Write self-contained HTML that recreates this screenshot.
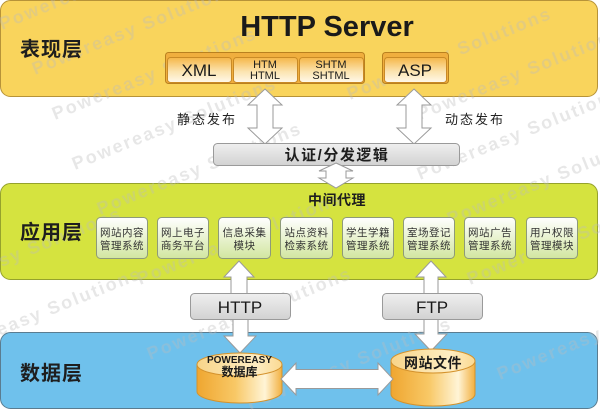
<!DOCTYPE html>
<html><head><meta charset="utf-8">
<style>
html,body{margin:0;padding:0;background:#fff;}
svg{display:block;}
.cn{font-family:"Liberation Sans","Noto Sans CJK SC",sans-serif;}
.wm{font-family:"Liberation Sans",sans-serif;font-weight:bold;font-size:18px;letter-spacing:2px;}
</style></head>
<body>
<svg width="600" height="411" viewBox="0 0 600 411" xmlns="http://www.w3.org/2000/svg">
<defs>
  <linearGradient id="tab" x1="0" y1="0" x2="0" y2="1">
    <stop offset="0" stop-color="#F5B647"/>
    <stop offset="0.55" stop-color="#FBE3AE"/>
    <stop offset="1" stop-color="#FFF9EA"/>
  </linearGradient>
  <linearGradient id="mod" x1="0" y1="0" x2="0" y2="1">
    <stop offset="0" stop-color="#FFFFFF"/>
    <stop offset="1" stop-color="#D2E6A0"/>
  </linearGradient>
  <linearGradient id="gray" x1="0" y1="0" x2="0" y2="1">
    <stop offset="0" stop-color="#EFEFEF"/>
    <stop offset="1" stop-color="#D2D2D2"/>
  </linearGradient>
  <linearGradient id="cyl" x1="0" y1="0" x2="1" y2="0">
    <stop offset="0" stop-color="#EFA630"/>
    <stop offset="0.45" stop-color="#F8C866"/>
    <stop offset="0.8" stop-color="#FFF4D6"/>
    <stop offset="1" stop-color="#F2B040"/>
  </linearGradient>
  <linearGradient id="cyltop" x1="0" y1="0" x2="1" y2="0">
    <stop offset="0" stop-color="#F8D58A"/>
    <stop offset="0.7" stop-color="#FEEDC2"/>
    <stop offset="1" stop-color="#FAD992"/>
  </linearGradient>
</defs>

<!-- Panels -->
<rect x="0.5" y="0.5" width="597" height="96" rx="10" fill="#F9D45C" stroke="#B79338"/>
<rect x="0.5" y="183.5" width="597" height="96" rx="10" fill="#D5E33F" stroke="#95A22C"/>
<rect x="0.5" y="332.5" width="597" height="76" rx="10" fill="#6FC1EC" stroke="#5A7C90"/>

<!-- watermark -->
<g class="wm" fill="#BDBDBD" opacity="0.35">
  <text transform="translate(2,30) rotate(-22)">Powereasy Solutions</text>
  <text transform="translate(35,75) rotate(-22)">Powereasy Solutions</text>
  <text transform="translate(55,120) rotate(-22)">Powereasy Solutions</text>
  <text transform="translate(350,100) rotate(-22)">Powereasy Solutions</text>
  <text transform="translate(420,120) rotate(-22)">Powereasy Solutions</text>
  <text transform="translate(75,170) rotate(-22)">Powereasy Solutions</text>
  <text transform="translate(100,215) rotate(-22)">Powereasy Solutions</text>
  <text transform="translate(140,285) rotate(-22)">Powereasy Solutions</text>
  <text transform="translate(420,180) rotate(-22)">Powereasy Solutions</text>
  <text transform="translate(450,225) rotate(-22)">Powereasy Solutions</text>
  <text transform="translate(470,285) rotate(-22)">Powereasy Solutions</text>
  <text transform="translate(-80,300) rotate(-22)">Powereasy Solutions</text>
  <text transform="translate(-60,360) rotate(-22)">Powereasy Solutions</text>
  <text transform="translate(150,360) rotate(-22)">Powereasy Solutions</text>
  <text transform="translate(250,410) rotate(-22)">Powereasy Solutions</text>
  <text transform="translate(500,380) rotate(-22)">Powereasy Solutions</text>
</g>

<!-- Top panel content -->
<text x="327" y="36" text-anchor="middle" font-family="Liberation Sans, sans-serif" font-weight="bold" font-size="29" fill="#1a1a1a">HTTP Server</text>
<text class="cn" x="20" y="56" font-size="20" font-weight="bold" letter-spacing="1" fill="#1e1e1e">表现层</text>

<rect x="165.5" y="52.5" width="199" height="31" rx="3" fill="#F0AE3E" stroke="#B9801F"/>
<rect x="382.5" y="52.5" width="66" height="31" rx="3" fill="#F0AE3E" stroke="#B9801F"/>
<rect x="167.5" y="57.5" width="64" height="25" rx="3" fill="url(#tab)" stroke="#C98A26"/>
<rect x="233.5" y="57.5" width="64" height="25" rx="3" fill="url(#tab)" stroke="#C98A26"/>
<rect x="299.5" y="57.5" width="64" height="25" rx="3" fill="url(#tab)" stroke="#C98A26"/>
<rect x="384.5" y="57.5" width="62" height="25" rx="3" fill="url(#tab)" stroke="#C98A26"/>
<g font-family="Liberation Sans, sans-serif" fill="#1a1a1a" text-anchor="middle">
  <text x="199" y="76" font-size="17">XML</text>
  <text x="265" y="68" font-size="11">HTM</text>
  <text x="265" y="79" font-size="11">HTML</text>
  <text x="331" y="68" font-size="11">SHTM</text>
  <text x="331" y="79" font-size="11">SHTML</text>
  <text x="415" y="76" font-size="17">ASP</text>
</g>

<!-- arrows top -> auth -->
<g fill="#FFFFFF" stroke="#9A9A9A" stroke-width="1">
  <path d="M265,89 L282,105 L273,105 L273,128 L282,128 L265,144 L248,128 L257,128 L257,105 L248,105 Z"/>
  <path d="M414,89 L431,105 L422,105 L422,128 L431,128 L414,144 L397,128 L406,128 L406,105 L397,105 Z"/>
</g>
<text class="cn" x="177" y="124" font-size="13" letter-spacing="2" fill="#222">静态发布</text>
<text class="cn" x="445" y="124" font-size="13" letter-spacing="2" fill="#222">动态发布</text>

<!-- auth box -->
<rect x="213.5" y="143.5" width="246" height="22" rx="4" fill="url(#gray)" stroke="#9A9A9A"/>
<text class="cn" x="337" y="160" text-anchor="middle" font-size="15" font-weight="bold" letter-spacing="1.5" fill="#1e1e1e">认证/分发逻辑</text>

<!-- auth -> middle arrow -->
<path d="M336,163 L353,171 L346,171 L346,178 L353,178 L336,188 L319,178 L326,178 L326,171 L319,171 Z" fill="#FFFFFF" stroke="#9A9A9A"/>

<!-- middle panel -->
<text class="cn" x="337" y="205" text-anchor="middle" font-size="14" font-weight="bold" letter-spacing="0.5" fill="#1e1e1e">中间代理</text>
<text class="cn" x="20" y="239" font-size="20" font-weight="bold" letter-spacing="1" fill="#1e1e1e">应用层</text>

<g stroke="#8E9A7A" fill="url(#mod)">
  <rect x="96.5" y="217.5" width="51" height="41" rx="4"/>
  <rect x="157.5" y="217.5" width="51" height="41" rx="4"/>
  <rect x="218.5" y="217.5" width="52" height="41" rx="4"/>
  <rect x="280.5" y="217.5" width="52" height="41" rx="4"/>
  <rect x="342.5" y="217.5" width="51" height="41" rx="4"/>
  <rect x="403.5" y="217.5" width="51" height="41" rx="4"/>
  <rect x="464.5" y="217.5" width="51" height="41" rx="4"/>
  <rect x="526.5" y="217.5" width="51" height="41" rx="4"/>
</g>
<g class="cn" font-size="10.5" fill="#333" text-anchor="middle" letter-spacing="0.5">
  <text x="122" y="236">网站内容</text><text x="122" y="249">管理系统</text>
  <text x="183" y="236">网上电子</text><text x="183" y="249">商务平台</text>
  <text x="244.5" y="236">信息采集</text><text x="244.5" y="249">模块</text>
  <text x="306.5" y="236">站点资料</text><text x="306.5" y="249">检索系统</text>
  <text x="368" y="236">学生学籍</text><text x="368" y="249">管理系统</text>
  <text x="429" y="236">室场登记</text><text x="429" y="249">管理系统</text>
  <text x="490" y="236">网站广告</text><text x="490" y="249">管理系统</text>
  <text x="552" y="236">用户权限</text><text x="552" y="249">管理模块</text>
</g>

<!-- HTTP / FTP arrows -->
<g fill="#FFFFFF" stroke="#9A9A9A">
  <path d="M239,261 L254,277 L247,277 L247,295 L231,295 L231,277 L224,277 Z"/>
  <path d="M431,261 L446,277 L438,277 L438,295 L424,295 L424,277 L416,277 Z"/>
  <path d="M233,318 L248,318 L248,336 L256,336 L240,353 L224,336 L233,336 Z"/>
  <path d="M424,318 L438,318 L438,334 L447,334 L431,351 L415,334 L424,334 Z"/>
</g>
<rect x="190.5" y="293.5" width="100" height="26" rx="4" fill="url(#gray)" stroke="#9A9A9A"/>
<rect x="382.5" y="293.5" width="100" height="26" rx="4" fill="url(#gray)" stroke="#9A9A9A"/>
<text x="240" y="313" text-anchor="middle" font-family="Liberation Sans, sans-serif" font-size="17" fill="#1a1a1a">HTTP</text>
<text x="432" y="313" text-anchor="middle" font-family="Liberation Sans, sans-serif" font-size="17" fill="#1a1a1a">FTP</text>

<!-- bottom panel -->
<text class="cn" x="20" y="380" font-size="20" font-weight="bold" letter-spacing="1" fill="#1e1e1e">数据层</text>

<!-- cylinders -->
<path d="M197,364.5 L197,391.5 A42.5,11.5 0 0 0 282,391.5 L282,364.5 Z" fill="url(#cyl)" stroke="#D4922C"/>
<ellipse cx="239.5" cy="364.5" rx="42.5" ry="11.5" fill="url(#cyltop)" stroke="#D4922C"/>
<path d="M391,361 L391,394 A42,12 0 0 0 475,394 L475,361 Z" fill="url(#cyl)" stroke="#D4922C"/>
<ellipse cx="433" cy="361" rx="42" ry="12" fill="url(#cyltop)" stroke="#D4922C"/>

<text x="239.5" y="363" text-anchor="middle" font-family="Liberation Sans, sans-serif" font-weight="bold" font-size="10" fill="#1a1a1a">POWEREASY</text>
<text class="cn" x="239.5" y="376" text-anchor="middle" font-size="12" font-weight="bold" fill="#1a1a1a">数据库</text>
<text class="cn" x="433" y="368" text-anchor="middle" font-size="14" font-weight="bold" letter-spacing="0.5" fill="#1a1a1a">网站文件</text>

<!-- horizontal double arrow -->
<path d="M281,379 L296,363 L296,369.5 L378,369.5 L378,363 L393,379 L378,395 L378,388.5 L296,388.5 L296,395 Z" fill="#FFFFFF" stroke="#9A9A9A"/>
</svg>
</body></html>
